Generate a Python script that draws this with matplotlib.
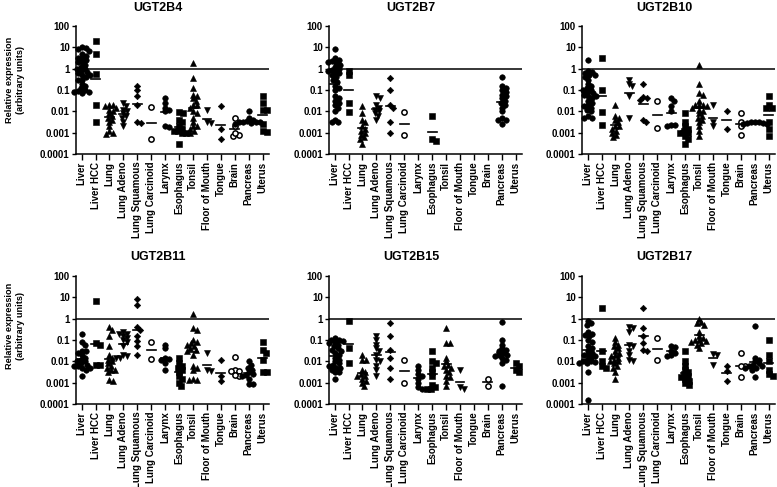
import numpy as np
import matplotlib
matplotlib.use("Agg")
import matplotlib.pyplot as plt
from matplotlib.ticker import NullLocator

plt.rcParams['font.family'] = ['Liberation Sans', 'DejaVu Sans']
plt.rcParams['font.weight'] = 'bold'

# Tissue groups (same order in every panel)
tissues = ["Liver", "Liver HCC", "Lung", "Lung Adeno", "Lung Squamous",
           "Lung Carcinoid", "Larynx", "Esophagus", "Tonsil", "Floor of Mouth",
           "Tongue", "Brain", "Pancreas", "Uterus"]

genes = ["UGT2B4", "UGT2B7", "UGT2B10", "UGT2B11", "UGT2B15", "UGT2B17"]

# Values (relative expression, one list per tissue)
ugt2b4 = [
    [10, 9, 8, 7, 5, 4, 3, 3, 2.5, 2, 2, 1.5, 1.2, 1, 1, 0.8, 0.7, 0.6, 0.5, 0.5,
     0.4, 0.3, 0.3, 0.2, 0.15, 0.12, 0.1, 0.09, 0.08, 0.08, 0.07],
    [20, 5, 0.55, 0.02, 0.003],
    [0.02, 0.02, 0.018, 0.015, 0.012, 0.01, 0.008, 0.006, 0.005, 0.004, 0.003,
     0.002, 0.0012, 0.001, 0.0009],
    [0.025, 0.018, 0.012, 0.01, 0.008, 0.006, 0.005, 0.003, 0.002],
    [0.16, 0.1, 0.05, 0.02, 0.003, 0.0028],
    [0.016, 0.0005],
    [0.04, 0.025, 0.015, 0.012, 0.01, 0.002, 0.0018],
    [0.009, 0.008, 0.004, 0.003, 0.002, 0.0015, 0.0012, 0.001, 0.001, 0.0012, 0.0003],
    [1.8, 0.35, 0.12, 0.06, 0.05, 0.04, 0.03, 0.02, 0.02, 0.015, 0.01, 0.008,
     0.005, 0.003, 0.002, 0.002, 0.0015, 0.0012, 0.001],
    [0.011, 0.003, 0.0028],
    [0.018, 0.0015, 0.0005],
    [0.005, 0.002, 0.0008, 0.0007, 0.001],
    [0.01, 0.005, 0.004, 0.0035, 0.003, 0.003, 0.0028, 0.0025, 0.003, 0.0032],
    [0.05, 0.025, 0.012, 0.011, 0.0025, 0.0012, 0.0011],
]

ugt2b7 = [
    [8, 3, 2.5, 2.2, 2, 1.8, 1.5, 1.2, 1, 0.9, 0.8, 0.7, 0.6, 0.5, 0.4, 0.3, 0.25,
     0.15, 0.12, 0.1, 0.05, 0.04, 0.03, 0.025, 0.02, 0.015, 0.01, 0.004, 0.003, 0.003],
    [0.8, 0.5, 0.025, 0.009],
    [0.018, 0.008, 0.004, 0.003, 0.002, 0.0015, 0.0012, 0.001, 0.0008, 0.0006,
     0.0005, 0.0003],
    [0.05, 0.04, 0.02, 0.015, 0.012, 0.01, 0.008, 0.006, 0.004],
    [0.35, 0.1, 0.02, 0.015, 0.003, 0.001],
    [0.009, 0.0008],
    [],
    [0.006, 0.0005, 0.0004],
    [],
    [],
    [],
    [],
    [0.4, 0.15, 0.12, 0.1, 0.08, 0.06, 0.05, 0.04, 0.03, 0.025, 0.02, 0.015, 0.01,
     0.005, 0.004, 0.004, 0.0025],
    [],
]

ugt2b10 = [
    [2.5, 0.8, 0.7, 0.6, 0.5, 0.5, 0.4, 0.3, 0.2, 0.15, 0.12, 0.1, 0.1, 0.08, 0.07,
     0.06, 0.05, 0.05, 0.04, 0.03, 0.025, 0.02, 0.018, 0.015, 0.012, 0.01, 0.006,
     0.005, 0.005],
    [3, 0.1, 0.009, 0.0023],
    [0.02, 0.006, 0.005, 0.004, 0.003, 0.002, 0.002, 0.0015, 0.0012, 0.001,
     0.0008, 0.0006],
    [0.3, 0.2, 0.15, 0.05, 0.005],
    [0.2, 0.045, 0.04, 0.035, 0.004, 0.003],
    [0.03, 0.0016],
    [0.04, 0.03, 0.018, 0.01, 0.0022, 0.0022, 0.002],
    [0.008, 0.003, 0.002, 0.0015, 0.0012, 0.001, 0.001, 0.0007, 0.0005, 0.0003],
    [1.5, 0.2, 0.07, 0.06, 0.03, 0.02, 0.02, 0.02, 0.018, 0.015, 0.012, 0.01,
     0.008, 0.006, 0.005, 0.004, 0.003, 0.002, 0.0012, 0.0007],
    [0.02, 0.003, 0.002],
    [0.01, 0.0015],
    [0.008, 0.003, 0.002, 0.0008],
    [0.003, 0.003, 0.0028, 0.0025, 0.0027, 0.003, 0.0026],
    [0.05, 0.02, 0.015, 0.015, 0.003, 0.0015, 0.0007],
]

ugt2b11 = [
    [0.2, 0.08, 0.06, 0.03, 0.03, 0.025, 0.02, 0.015, 0.012, 0.01, 0.01, 0.008,
     0.007, 0.006, 0.006, 0.005, 0.005, 0.004, 0.002],
    [7, 0.07, 0.06, 0.0065, 0.007],
    [0.4, 0.3, 0.15, 0.05, 0.02, 0.015, 0.012, 0.01, 0.008, 0.006, 0.005, 0.004,
     0.004, 0.003, 0.0013, 0.0012],
    [0.25, 0.2, 0.2, 0.15, 0.12, 0.1, 0.08, 0.05, 0.02, 0.018, 0.015, 0.015],
    [8, 4.5, 0.4, 0.3, 0.15, 0.09, 0.05, 0.02],
    [0.08, 0.013],
    [0.06, 0.04, 0.015, 0.013, 0.012, 0.008, 0.004],
    [0.015, 0.008, 0.006, 0.005, 0.004, 0.003, 0.002, 0.0015, 0.001, 0.0007],
    [1.6, 0.35, 0.3, 0.1, 0.08, 0.07, 0.06, 0.05, 0.04, 0.035, 0.03, 0.02, 0.006,
     0.005, 0.004, 0.0015, 0.0014, 0.0013],
    [0.025, 0.004, 0.0035],
    [0.011, 0.002, 0.0012],
    [0.016, 0.004, 0.0035, 0.0035, 0.002, 0.0022],
    [0.01, 0.007, 0.005, 0.004, 0.003, 0.0025, 0.0022, 0.002, 0.0015, 0.0009, 0.0009],
    [0.08, 0.035, 0.025, 0.012, 0.003, 0.003],
]

ugt2b15 = [
    [0.12, 0.1, 0.1, 0.09, 0.08, 0.07, 0.06, 0.05, 0.04, 0.035, 0.03, 0.025, 0.02,
     0.015, 0.012, 0.01, 0.008, 0.007, 0.006, 0.005, 0.005, 0.004, 0.003, 0.003,
     0.0015],
    [0.8, 0.04, 0.008],
    [0.02, 0.012, 0.012, 0.004, 0.003, 0.0025, 0.002, 0.002, 0.0015, 0.0012,
     0.001, 0.0007],
    [0.15, 0.1, 0.06, 0.04, 0.03, 0.02, 0.012, 0.01, 0.006, 0.004, 0.002],
    [0.6, 0.15, 0.035, 0.015, 0.005, 0.0015],
    [0.012, 0.001],
    [0.006, 0.004, 0.0025, 0.002, 0.0015, 0.001, 0.0006, 0.0005],
    [0.03, 0.01, 0.008, 0.005, 0.003, 0.002, 0.0008, 0.0006, 0.0005, 0.0005],
    [0.35, 0.07, 0.07, 0.015, 0.01, 0.007, 0.006, 0.005, 0.004, 0.003, 0.002,
     0.0018, 0.0012, 0.0007],
    [0.004, 0.0006, 0.0005],
    [],
    [0.0015, 0.0007],
    [0.7, 0.1, 0.06, 0.04, 0.035, 0.03, 0.025, 0.02, 0.02, 0.018, 0.015, 0.012,
     0.008, 0.0007],
    [0.008, 0.006, 0.004, 0.003],
]

ugt2b17 = [
    [0.8, 0.6, 0.5, 0.25, 0.2, 0.18, 0.15, 0.1, 0.08, 0.05, 0.04, 0.03, 0.025,
     0.02, 0.02, 0.018, 0.015, 0.012, 0.01, 0.01, 0.009, 0.008, 0.008, 0.003,
     0.00015],
    [3.2, 0.03, 0.01, 0.006, 0.005],
    [0.12, 0.08, 0.06, 0.05, 0.04, 0.03, 0.025, 0.02, 0.018, 0.015, 0.012, 0.01,
     0.01, 0.008, 0.006, 0.005, 0.003, 0.0015],
    [0.4, 0.35, 0.25, 0.06, 0.05, 0.03, 0.02, 0.012, 0.01],
    [3, 0.35, 0.15, 0.07, 0.035, 0.03],
    [0.12, 0.011],
    [0.05, 0.045, 0.03, 0.025, 0.02, 0.018],
    [0.03, 0.01, 0.006, 0.004, 0.003, 0.0025, 0.002, 0.0018, 0.0015, 0.0012,
     0.001, 0.0008],
    [1, 0.7, 0.6, 0.5, 0.25, 0.15, 0.12, 0.1, 0.1, 0.09, 0.08, 0.07, 0.06, 0.04],
    [0.022, 0.02, 0.007],
    [0.006, 0.0035, 0.0012],
    [0.025, 0.006, 0.006, 0.0018],
    [0.45, 0.015, 0.012, 0.01, 0.008, 0.007, 0.006, 0.006, 0.005, 0.005, 0.004,
     0.0018],
    [0.1, 0.02, 0.01, 0.004, 0.0025, 0.002],
]

panel_data = [ugt2b4, ugt2b7, ugt2b10, ugt2b11, ugt2b15, ugt2b17]

# marker style per tissue: (marker, size, open?)
marker_cycle = [('o', 4.0, False), ('s', 3.9, False), ('^', 4.5, False),
                ('v', 4.5, False), ('D', 3.3, False), ('o', 3.8, True)]


def swarm_offsets(vals, d=3.7, xpx=13.9, ypx=21.3):
    # simple beeswarm: spread points sideways so they don't overlap too much
    vals = np.asarray(vals, dtype=float)
    offs = np.zeros(len(vals))
    placed = []
    cands = [0.0]
    for k in range(1, 60):
        cands += [k * 1.0, -k * 1.0]
    for i in np.argsort(vals)[::-1]:
        y = np.log10(vals[i]) * ypx
        for c in cands:
            if all((c - px) ** 2 + (y - py) ** 2 >= d * d for px, py in placed):
                break
        placed.append((c, y))
        offs[i] = c / xpx
    return offs


W, H = 777, 487
fig = plt.figure(figsize=(W / 100, H / 100), dpi=100)

col_left = [76, 329, 582]
row_bottom = [154, 404]
ax_w, ax_h = 193, 128

for g, (gene, data) in enumerate(zip(genes, panel_data)):
    r, c = divmod(g, 3)
    ax = fig.add_axes([col_left[c] / W, (H - row_bottom[r]) / H, ax_w / W, ax_h / H])
    ax.set_yscale('log')
    ax.set_ylim(1e-4, 100)
    ax.set_xlim(-0.4, 13.45)

    ax.axhline(1, color='black', lw=1.1, zorder=1)

    for i, vals in enumerate(data):
        if len(vals) == 0:
            continue
        m, ms, hollow = marker_cycle[i % 6]
        xs = i + swarm_offsets(vals)
        ax.plot(xs, vals, linestyle='none', marker=m, markersize=ms,
                markerfacecolor='white' if hollow else 'black',
                markeredgecolor='black', markeredgewidth=1.1 if hollow else 0.4,
                zorder=3, clip_on=False)
        gm = 10 ** np.mean(np.log10(vals))
        ax.plot([i - 0.32, i + 0.32], [gm, gm], color='black', lw=1.2, zorder=2)

    ax.set_yticks([1e-4, 1e-3, 1e-2, 1e-1, 1, 10, 100])
    ax.set_yticklabels(['0.0001', '0.001', '0.01', '0.1', '1', '10', '100'])
    ax.yaxis.set_minor_locator(NullLocator())
    ax.set_xticks(range(len(tissues)))
    ax.set_xticklabels(tissues, rotation=90)
    ax.tick_params(axis='both', labelsize=7, width=1, length=3, pad=1.5)
    ax.tick_params(axis='x', length=4)
    for lab in ax.get_xticklabels() + ax.get_yticklabels():
        lab.set_fontweight('bold')
    for s in ['top', 'right']:
        ax.spines[s].set_visible(False)
    for s in ['left', 'bottom']:
        ax.spines[s].set_linewidth(1.1)

    title_y = 8 if r == 0 else 257
    fig.text((col_left[c] + 82) / W, 1 - title_y / H, gene, ha='center',
             va='center', fontsize=9, fontweight='bold')

for yc in [80, 326]:
    fig.text(15 / W, 1 - yc / H, 'Relative expression\n(arbitrary units)',
             rotation=90, ha='center', va='center', fontsize=6.6,
             fontweight='bold', linespacing=1.3)

fig.savefig('out.png', dpi=100)
